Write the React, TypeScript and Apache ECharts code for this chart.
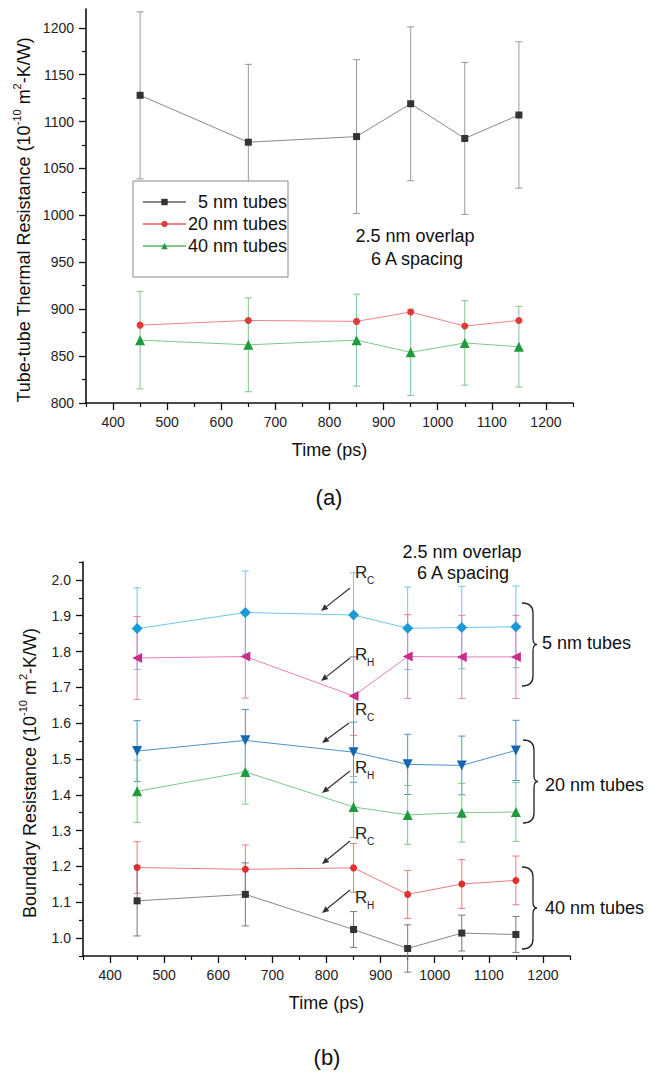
import React, { useEffect, useRef } from "react";
import * as echarts from "echarts";

// ---------- data ----------
const times = [450, 650, 850, 950, 1050, 1150];

// (a) Tube-tube thermal resistance
const tube5 = [1128, 1078, 1084, 1119, 1082, 1107];
const tube5Err = [89, 83, 82, 82, 81, 78];
const tube20 = [883, 888, 887, 897, 882, 888];
const tube40 = [867, 862, 867, 854, 864, 860];
const tube40Err = [52, 50, 49, 46, 45, 43];

// (b) Boundary resistance
const rc5 = [1.864, 1.909, 1.902, 1.865, 1.867, 1.869];
const rc5Err = [0.114, 0.116, 0.118, 0.115, 0.115, 0.114];
const rh5 = [1.782, 1.786, 1.676, 1.786, 1.785, 1.785];
const rh5Err = [0.116, 0.116, 0.11, 0.117, 0.116, 0.116];
const rc20 = [1.522, 1.552, 1.519, 1.485, 1.482, 1.524];
const rc20Err = [0.085, 0.086, 0.084, 0.084, 0.082, 0.084];
const rh20 = [1.41, 1.464, 1.366, 1.344, 1.35, 1.352];
const rh20Err = [0.087, 0.09, 0.085, 0.082, 0.082, 0.082];
const rc40 = [1.197, 1.192, 1.196, 1.122, 1.151, 1.161];
const rc40Err = [0.072, 0.068, 0.068, 0.067, 0.068, 0.068];
const rh40 = [1.104, 1.122, 1.024, 0.971, 1.014, 1.01];
const rh40Err = [0.098, 0.088, 0.05, 0.066, 0.05, 0.05];

// ticks
const xMajor = [400, 500, 600, 700, 800, 900, 1000, 1100, 1200];
const xMinor = [350, 450, 550, 650, 750, 850, 950, 1050, 1150, 1250];
const aYMajor = [800, 850, 900, 950, 1000, 1050, 1100, 1150, 1200];
const aYMinor = [825, 875, 925, 975, 1025, 1075, 1125, 1175];
const bYMajor = [1.0, 1.1, 1.2, 1.3, 1.4, 1.5, 1.6, 1.7, 1.8, 1.9, 2.0];
const bYMinor = [0.95, 1.05, 1.15, 1.25, 1.35, 1.45, 1.55, 1.65, 1.75, 1.85, 1.95, 2.05];

const FONT = "'Liberation Sans', Arial, sans-serif";

function bracePath(h: number) {
  const m = h / 2;
  return `M0,0 Q11,0 11,10 L11,${m - 6} Q11,${m} 15,${m} Q11,${m} 11,${m + 6} L11,${h - 10} Q11,${h} 0,${h}`;
}
echarts.graphic.registerShape("brace1", echarts.graphic.extendPath(bracePath(83), {}));
echarts.graphic.registerShape("brace2", echarts.graphic.extendPath(bracePath(83), {}));
echarts.graphic.registerShape("brace3", echarts.graphic.extendPath(bracePath(82), {}));

function errSeries(name: string, axis: number, ys: number[], errs: number[], color: string) {
  return {
    type: "custom",
    name,
    xAxisIndex: axis,
    yAxisIndex: axis,
    z: 1,
    silent: true,
    data: times.map((t, i) => [t, ys[i], errs[i]]),
    encode: { x: 0, y: 1 },
    renderItem: (_p: any, api: any) => {
      const x = api.value(0);
      const y = api.value(1);
      const e = api.value(2);
      const top = api.coord([x, y + e]);
      const bot = api.coord([x, y - e]);
      const w = 3.5;
      const st = { stroke: color, lineWidth: 1 };
      return {
        type: "group",
        children: [
          { type: "line", shape: { x1: top[0], y1: top[1], x2: bot[0], y2: bot[1] }, style: st },
          { type: "line", shape: { x1: top[0] - w, y1: top[1], x2: top[0] + w, y2: top[1] }, style: st },
          { type: "line", shape: { x1: bot[0] - w, y1: bot[1], x2: bot[0] + w, y2: bot[1] }, style: st },
        ],
      };
    },
  };
}

function lineSeries(
  name: string,
  axis: number,
  ys: number[],
  symbol: string,
  size: number,
  mColor: string,
  lColor: string,
  rotate = 0
) {
  return {
    type: "line",
    name,
    xAxisIndex: axis,
    yAxisIndex: axis,
    z: 3,
    data: times.map((t, i) => [t, ys[i]]),
    symbol,
    symbolSize: size,
    symbolRotate: rotate,
    showAllSymbol: true,
    itemStyle: { color: mColor },
    lineStyle: { color: lColor, width: 1 },
  };
}

function axisPair(kind: "x" | "y", grid: number, min: number, max: number, major: number[], minor: number[], fmt: (v: number) => string, name?: string) {
  const main: any = {
    type: "value",
    gridIndex: grid,
    min,
    max,
    position: kind === "x" ? "bottom" : "left",
    axisLine: { show: true, lineStyle: { color: "#111", width: 1.6 } },
    axisTick: { show: true, customValues: major, length: 7, inside: false, lineStyle: { color: "#111", width: 1.3 } },
    axisLabel: { show: true, customValues: major, formatter: fmt, fontSize: 14, color: "#222", fontFamily: FONT, margin: 12 },
    splitLine: { show: false },
  };
  if (name) {
    main.name = name;
    main.nameLocation = "middle";
    main.nameGap = 38;
    main.nameTextStyle = { fontSize: 18, color: "#111", fontFamily: FONT };
  }
  const minorAx: any = {
    type: "value",
    gridIndex: grid,
    min,
    max,
    position: kind === "x" ? "bottom" : "left",
    axisLine: { show: false },
    axisTick: { show: true, customValues: minor, length: 4, inside: false, lineStyle: { color: "#111", width: 1.2 } },
    axisLabel: { show: false },
    splitLine: { show: false },
  };
  return [main, minorAx];
}

function arrow(x1: number, y1: number, x2: number, y2: number) {
  const dx = x2 - x1;
  const dy = y2 - y1;
  const L = Math.hypot(dx, dy);
  const ux = dx / L;
  const uy = dy / L;
  const hl = 7;
  const hw = 3;
  const bx = x2 - ux * hl;
  const by = y2 - uy * hl;
  return [
    { type: "line", shape: { x1, y1, x2: bx, y2: by }, style: { stroke: "#333", lineWidth: 1.2 }, z: 30 },
    {
      type: "polygon",
      shape: { points: [[x2, y2], [bx - uy * hw, by + ux * hw], [bx + uy * hw, by - ux * hw]] },
      style: { fill: "#333" },
      z: 30,
    },
  ];
}

function rLabel(x: number, y: number, sub: string) {
  return [
    { type: "text", x, y, z: 30, style: { text: "R", fontSize: 17, fontFamily: FONT, fill: "#222", align: "left", verticalAlign: "middle" } },
    { type: "text", x: x + 12, y: y + 8, z: 30, style: { text: sub, fontSize: 10, fontFamily: FONT, fill: "#222", align: "left", verticalAlign: "middle" } },
  ];
}

function txt(x: number, y: number, text: string, size = 18, align = "center") {
  return { type: "text", x, y, z: 30, style: { text, fontSize: size, fontFamily: FONT, fill: "#111", align, verticalAlign: "middle" } };
}

function yTitle(x: number, y: number, main: string) {
  return {
    type: "text",
    x,
    y,
    rotation: Math.PI / 2,
    z: 30,
    style: {
      text: `{n|${main} (10}{s|-10}{n| m}{s|2}{n|-K/W)}`,
      align: "center",
      verticalAlign: "middle",
      fill: "#111",
      rich: {
        n: { fontSize: 18, fontFamily: FONT, fill: "#111", lineHeight: 22, verticalAlign: "bottom" },
        s: { fontSize: 11, fontFamily: FONT, fill: "#111", lineHeight: 22, verticalAlign: "top" },
      },
    },
  };
}

export default function App() {
  const ref = useRef<HTMLDivElement>(null);
  useEffect(() => {
    if (!ref.current) return;
    const chart = echarts.init(ref.current, undefined, { renderer: "svg" });
    const fmtInt = (v: number) => String(Math.round(v));
    const fmt1 = (v: number) => v.toFixed(1);
    const xA = axisPair("x", 0, 350, 1250, xMajor, xMinor, fmtInt, "Time (ps)");
    const xB = axisPair("x", 1, 350, 1250, xMajor, xMinor, fmtInt, "Time (ps)");
    const yA = axisPair("y", 0, 800, 1220, aYMajor, aYMinor, fmtInt);
    const yB = axisPair("y", 1, 0.95, 2.05, bYMajor, bYMinor, fmt1);

    const graphics: any[] = [
      { type: "rect", shape: { x: 133, y: 181, width: 155, height: 96 }, style: { fill: "#fff", stroke: "#888", lineWidth: 1 }, z: 15 },
      txt(415, 236, "2.5 nm overlap"),
      txt(417, 259, "6 A spacing"),
      txt(329, 497, "(a)", 22),
      txt(462, 552, "2.5 nm overlap"),
      txt(463, 573, "6 A spacing"),
      txt(327, 1057, "(b)", 22),
      yTitle(22, 220, "Tube-tube Thermal Resistance"),
      yTitle(28, 773, "Boundary Resistance"),
      ...rLabel(355, 572, "C"),
      ...arrow(350, 588, 321, 611),
      ...rLabel(355, 654, "H"),
      ...arrow(350, 658, 321, 681),
      ...rLabel(355, 709, "C"),
      ...arrow(349, 723, 322, 743),
      ...rLabel(355, 767, "H"),
      ...arrow(350, 771, 322, 793),
      ...rLabel(355, 833, "C"),
      ...arrow(350, 841, 322, 864),
      ...rLabel(355, 897, "H"),
      ...arrow(350, 890, 322, 913),
      { type: "brace1", x: 522, y: 603, z: 30, style: { stroke: "#222", fill: "none", lineWidth: 1.3 } },
      { type: "brace2", x: 523, y: 740, z: 30, style: { stroke: "#222", fill: "none", lineWidth: 1.3 } },
      { type: "brace3", x: 522, y: 867, z: 30, style: { stroke: "#222", fill: "none", lineWidth: 1.3 } },
      txt(542, 643, "5 nm tubes", 18, "left"),
      txt(545, 785, "20 nm tubes", 18, "left"),
      txt(545, 908, "40 nm tubes", 18, "left"),
    ];

    chart.setOption({
      animation: false,
      backgroundColor: "#fff",
      textStyle: { fontFamily: FONT },
      grid: [
        { left: 86, top: 9, width: 487, height: 394 },
        { left: 83, top: 562, width: 487, height: 394 },
      ],
      xAxis: [xA[0], xA[1], xB[0], xB[1]],
      yAxis: [yA[0], yA[1], yB[0], yB[1]],
      legend: {
        show: true,
        orient: "vertical",
        left: 137,
        top: 188,
        itemWidth: 43,
        itemHeight: 8,
        itemGap: 4,
        z: 20,
        data: ["5 nm tubes", "20 nm tubes", "40 nm tubes"],
        formatter: (n: string) => `{r|${n}}`,
        textStyle: {
          rich: { r: { width: 96, align: "right", fontSize: 18, fontFamily: FONT, color: "#111", lineHeight: 18 } },
        },
      },
      graphic: graphics,
      series: [
        errSeries("e5", 0, tube5, tube5Err, "#999"),
        errSeries("e40", 0, tube40, tube40Err, "#7dc88c"),
        lineSeries("5 nm tubes", 0, tube5, "rect", 7, "#333", "#888"),
        lineSeries("20 nm tubes", 0, tube20, "circle", 7, "#e03a3a", "#ee8488"),
        lineSeries("40 nm tubes", 0, tube40, "triangle", 10, "#1f9a3f", "#7dc88c"),

        errSeries("erc5", 2, rc5, rc5Err, "#72c6ea"),
        errSeries("erh5", 2, rh5, rh5Err, "#e480b8"),
        errSeries("erc20", 2, rc20, rc20Err, "#4f8fcf"),
        errSeries("erh20", 2, rh20, rh20Err, "#7dc88c"),
        errSeries("erc40", 2, rc40, rc40Err, "#ec7a80"),
        errSeries("erh40", 2, rh40, rh40Err, "#777"),
        lineSeries("RC 5 nm", 2, rc5, "diamond", 11, "#1c9ad6", "#72c6ea"),
        lineSeries("RH 5 nm", 2, rh5, "triangle", 10, "#cc2c8a", "#e480b8", 90),
        lineSeries("RC 20 nm", 2, rc20, "triangle", 10, "#1565b0", "#4f8fcf", 180),
        lineSeries("RH 20 nm", 2, rh20, "triangle", 10, "#1f9a3f", "#7dc88c"),
        lineSeries("RC 40 nm", 2, rc40, "circle", 7, "#e03030", "#ec7a80"),
        lineSeries("RH 40 nm", 2, rh40, "rect", 7, "#333", "#888"),
      ],
    });
    return () => chart.dispose();
  }, []);
  return <div ref={ref} style={{ position: "fixed", left: 0, top: 0, width: 649, height: 1074, background: "#fff" }} />;
}
